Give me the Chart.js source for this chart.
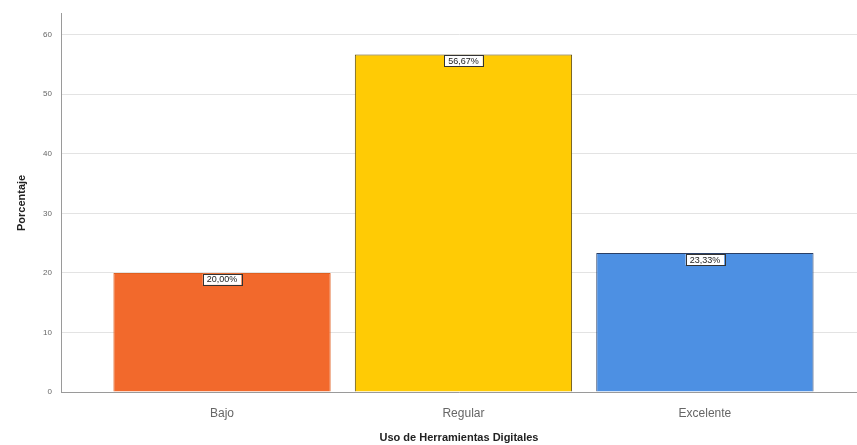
<!DOCTYPE html>
<html>
<head>
<meta charset="utf-8">
<script src="https://cdn.jsdelivr.net/npm/chart.js@4"></script>
<style>
  html, body { margin: 0; padding: 0; background: #fff; overflow: hidden; }
  #wrap { width: 857px; height: 445px; }
</style>
</head>
<body>
<div id="wrap"><canvas id="usoChart" width="857" height="445"></canvas></div>
<script>
const categories = ["Bajo", "Regular", "Excelente"];
const porcentajes = [20.0, 56.67, 23.33];
const etiquetas = ["20,00%", "56,67%", "23,33%"];
const yTicks = [0, 10, 20, 30, 40, 50, 60];

const barColors = ["#f2692c", "#ffcb05", "#4d90e3"];
const borderColors = ["#e0601f", "#5a4a10", "#2a3f66"];

// white boxes with the percentage at the top of each bar
const boxLabels = {
  id: "boxLabels",
  afterDatasetsDraw(chart) {
    const ctx = chart.ctx;
    const meta = chart.getDatasetMeta(0);
    ctx.save();
    ctx.font = "9px 'Liberation Sans', Arial, sans-serif";
    ctx.textAlign = "center";
    ctx.textBaseline = "middle";
    meta.data.forEach((bar, i) => {
      const txt = etiquetas[i];
      const w = ctx.measureText(txt).width + 8;
      const h = 11;
      const x = bar.x - w / 2;
      const y = bar.y + 1;
      ctx.fillStyle = "#ffffff";
      ctx.fillRect(x, y, w, h);
      ctx.strokeStyle = "#333";
      ctx.lineWidth = 1;
      ctx.strokeRect(Math.round(x) + 0.5, Math.round(y) + 0.5, Math.round(w), h);
      ctx.fillStyle = "#222";
      ctx.fillText(txt, bar.x, y + h / 2 + 0.5);
    });
    ctx.restore();
  },
};

const ctx = document.getElementById("usoChart").getContext("2d");
const usoChart = new Chart(ctx, {
  type: "bar",
  data: {
    datasets: [
      {
        data: porcentajes.map((v, i) => ({ x: i, y: v })),
        backgroundColor: barColors,
        borderColor: borderColors,
        borderWidth: 1,
        barPercentage: 0.9,
        categoryPercentage: 1.0,
      },
    ],
  },
  options: {
    responsive: false,
    animation: false,
    layout: { padding: { top: 13, left: 0, right: 0, bottom: 0 } },
    plugins: {
      legend: { display: false },
      tooltip: { enabled: false },
    },
    scales: {
      x: {
        type: "linear",
        offset: false,
        min: -0.667,
        max: 2.63,
        grid: { display: false },
        border: { display: true, color: "#9a9a9a", width: 1 },
        afterBuildTicks: (s) => {
          s.ticks = categories.map((c, i) => ({ value: i }));
        },
        ticks: {
          callback: (v) => categories[v],
          color: "#666",
          font: { family: "'Liberation Sans', Arial, sans-serif", size: 12 },
          padding: 6,
          maxRotation: 0,
        },
        title: {
          display: true,
          text: "Uso de Herramientas Digitales",
          color: "#222",
          font: { family: "'Liberation Sans', Arial, sans-serif", size: 11, weight: "bold" },
          padding: { top: 8, bottom: 0 },
        },
        afterFit: (s) => {
          s.height = 53;
        },
      },
      y: {
        min: 0,
        max: 63.5,
        afterBuildTicks: (s) => {
          s.ticks = yTicks.map((v) => ({ value: v }));
        },
        grid: { color: "#e3e3e3", lineWidth: 1, drawTicks: false },
        border: { display: true, color: "#9a9a9a", width: 1 },
        ticks: {
          color: "#666",
          font: { family: "'Liberation Sans', Arial, sans-serif", size: 8 },
          padding: 9,
        },
        title: {
          display: true,
          text: "Porcentaje",
          color: "#222",
          font: { family: "'Liberation Sans', Arial, sans-serif", size: 11, weight: "bold" },
          padding: { top: 15, bottom: 0 },
        },
        afterFit: (s) => {
          s.width = 61;
        },
      },
    },
  },
  plugins: [boxLabels],
});
</script>
</body>
</html>
